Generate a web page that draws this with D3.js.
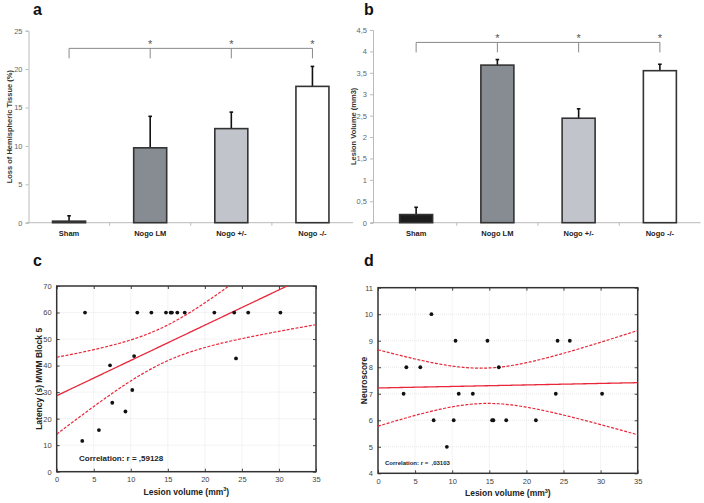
<!DOCTYPE html>
<html><head><meta charset="utf-8">
<script src="https://cdn.jsdelivr.net/npm/d3@7"></script>
<style>
html,body{margin:0;padding:0;background:#fff;}
svg{display:block;font-family:"Liberation Sans",Arial,sans-serif;}
</style></head>
<body>
<svg id="c" width="704" height="503"></svg>
<script>
// ---------- data ----------
const groups = ["Sham", "Nogo LM", "Nogo +/-", "Nogo -/-"];
const groupFill = ["#1c1c1c", "#878c92", "#c1c5cb", "#ffffff"];
const tissueLoss = [0.2, 9.75, 12.25, 17.75];
const tissueLossErr = [0.7, 4.1, 2.15, 2.6];
const tissueTicks = [0, 5, 10, 15, 20, 25];
const lesionVol = [0.19, 3.68, 2.44, 3.55];
const lesionVolErr = [0.17, 0.13, 0.22, 0.15];
const lesionTicks = [0, 0.5, 1, 1.5, 2, 2.5, 3, 3.5, 4, 4.5];
const lesionTickLabels = ["0", "0,5", "1", "1,5", "2", "2,5", "3", "3,5", "4", "4,5"];

const scatterX = [3.45, 3.82, 5.7, 7.2, 7.5, 9.28, 10.2, 10.45, 10.88, 12.78, 14.75, 15.38, 15.55, 16.28, 17.28, 21.28, 23.96, 24.2, 25.85, 30.2];
const latency  = [11.6, 60, 15.7, 40.1, 26.0, 22.7, 30.8, 43.6, 60, 60, 60, 60, 60, 60, 60, 60, 60, 42.7, 60, 60];
const neuroscore = [7, 8, 8, 10, 6, 5, 6, 9, 7, 7, 9, 6, 6, 8, 6, 6, 7, 9, 9, 7];
const volTicks = [0, 5, 10, 15, 20, 25, 30, 35];
const latTicks = [0, 10, 20, 30, 40, 50, 60, 70];
const neuroTicks = [4, 5, 6, 7, 8, 9, 10, 11];

const svg = d3.select("#c");
const FONT = '"Liberation Sans",Arial,sans-serif';

// ---------- bar panels ----------
function barPanel(o) {
  const g = svg.append("g");
  const x = d3.scaleBand().domain(groups).range(o.xr).paddingInner(0).paddingOuter(0);
  const y = d3.scaleLinear().domain(o.yd).range(o.yr);
  const bw = 33;
  // y axis
  const ya = d3.axisLeft(y).tickValues(o.ticks).tickSize(3).tickFormat((d, i) => o.labels ? o.labels[i] : d);
  const yg = g.append("g").attr("transform", `translate(${o.ax},0)`).call(ya);
  yg.select(".domain").attr("stroke", "#bbb");
  yg.selectAll(".tick line").attr("stroke", "#bbb");
  yg.selectAll(".tick text").attr("fill", "#666").attr("font-size", 7.5).attr("font-family", FONT).attr("dx", 0);
  // x axis
  const xg = g.append("g").attr("transform", `translate(0,${o.yr[0]})`);
  xg.append("line").attr("x1", o.ax - 2).attr("x2", o.xr[1]).attr("stroke", "#bbb");
  groups.forEach((c, i) => {
    if (i > 0) xg.append("line").attr("x1", x(c)).attr("x2", x(c)).attr("y1", 0).attr("y2", 3).attr("stroke", "#bbb");
    xg.append("text").attr("x", x(c) + x.bandwidth() / 2).attr("y", 13.5).attr("text-anchor", "middle")
      .attr("font-size", 7.5).attr("font-weight", "bold").attr("fill", "#222").attr("font-family", FONT).text(c);
  });
  // error bars
  o.vals.forEach((v, i) => {
    const cx = x(groups[i]) + x.bandwidth() / 2;
    g.append("line").attr("x1", cx).attr("x2", cx).attr("y1", y(v)).attr("y2", y(v + o.err[i])).attr("stroke", "#111").attr("stroke-width", 1.6);
    g.append("line").attr("x1", cx - 1.8).attr("x2", cx + 1.8).attr("y1", y(v + o.err[i])).attr("y2", y(v + o.err[i])).attr("stroke", "#111").attr("stroke-width", 1.6);
  });
  // bars
  g.selectAll("rect.bar").data(o.vals).join("rect")
    .attr("x", (d, i) => x(groups[i]) + x.bandwidth() / 2 - bw / 2)
    .attr("width", bw)
    .attr("y", d => y(d))
    .attr("height", d => y(0) - y(d))
    .attr("fill", (d, i) => groupFill[i])
    .attr("stroke", "#333").attr("stroke-width", 1.6);
  // significance bracket
  const by = y(o.bracket);
  const cxs = groups.map(c => x(c) + x.bandwidth() / 2);
  g.append("line").attr("x1", cxs[0]).attr("x2", cxs[3]).attr("y1", by).attr("y2", by).attr("stroke", "#888");
  g.append("line").attr("x1", cxs[0]).attr("x2", cxs[0]).attr("y1", by).attr("y2", by + 10).attr("stroke", "#888");
  [1, 2, 3].forEach(i => {
    g.append("line").attr("x1", cxs[i]).attr("x2", cxs[i]).attr("y1", by).attr("y2", by + 10).attr("stroke", "#888");
    g.append("text").attr("x", cxs[i]).attr("y", by - 0.5).attr("text-anchor", "middle")
      .attr("font-size", 11).attr("fill", "#555").attr("font-family", FONT).text("*");
  });
  // y label
  const cy = (o.yr[0] + o.yr[1]) / 2;
  g.append("text").attr("transform", `translate(${o.ylx},${cy}) rotate(-90)`).attr("text-anchor", "middle")
    .attr("font-size", 7.5).attr("font-weight", "bold").attr("fill", "#333").attr("font-family", FONT).text(o.ylabel);
  // panel letter
  g.append("text").attr("x", o.lx).attr("y", 15).attr("font-size", 16).attr("font-weight", "bold")
    .attr("font-family", FONT).attr("fill", "#111").text(o.letter);
}

barPanel({xr: [28.5, 353], ax: 28.5, yd: [0, 25], yr: [222.7, 30.7], ticks: tissueTicks, vals: tissueLoss, err: tissueLossErr,
  bracket: 22.7, ylabel: "Loss of Hemispheric Tissue (%)", ylx: 12, letter: "a", lx: 33});
barPanel({xr: [375.5, 700.5], ax: 373, yd: [0, 4.5], yr: [222.7, 30], ticks: lesionTicks, labels: lesionTickLabels, vals: lesionVol, err: lesionVolErr,
  bracket: 4.21, ylabel: "Lesion Volume (mm3)", ylx: 356, letter: "b", lx: 364});

// ---------- scatter panels ----------
function regression(xs, ys) {
  const n = xs.length;
  const mx = d3.mean(xs), my = d3.mean(ys);
  let sxx = 0, sxy = 0;
  xs.forEach((v, i) => { sxx += (v - mx) ** 2; sxy += (v - mx) * (ys[i] - my); });
  const b = sxy / sxx, a = my - b * mx;
  let sse = 0;
  xs.forEach((v, i) => { sse += (ys[i] - a - b * v) ** 2; });
  const s = Math.sqrt(sse / (n - 2));
  const t = 2.1009; // t(0.975, 18)
  return {a, b, half: x0 => t * s * Math.sqrt(1 / n + (x0 - mx) ** 2 / sxx)};
}

function scatterPanel(o) {
  const g = svg.append("g");
  const x = d3.scaleLinear().domain([0, 35]).range(o.xr);
  const y = d3.scaleLinear().domain(o.yd).range(o.yr);
  const id = "clip" + o.letter;
  svg.append("clipPath").attr("id", id).append("rect")
    .attr("x", o.xr[0]).attr("y", o.yr[1]).attr("width", o.xr[1] - o.xr[0]).attr("height", o.yr[0] - o.yr[1]);
  // grid
  g.append("g").selectAll("line").data(volTicks.slice(1, -1)).join("line")
    .attr("x1", d => x(d)).attr("x2", d => x(d)).attr("y1", o.yr[0]).attr("y2", o.yr[1])
    .attr("stroke", "#d8d8d8").attr("stroke-width", 0.6).attr("stroke-dasharray", "1,1");
  g.append("g").selectAll("line").data(o.yticks.slice(1, -1)).join("line")
    .attr("y1", d => y(d)).attr("y2", d => y(d)).attr("x1", o.xr[0]).attr("x2", o.xr[1])
    .attr("stroke", "#d8d8d8").attr("stroke-width", 0.6).attr("stroke-dasharray", "1,1");
  // axes (ticks inward)
  const fmt = d3.format("d");
  const xa = g.append("g").attr("transform", `translate(0,${o.yr[0]})`).call(d3.axisBottom(x).tickValues(volTicks).tickSize(-3).tickPadding(5).tickFormat(fmt));
  const xt = g.append("g").attr("transform", `translate(0,${o.yr[1]})`).call(d3.axisTop(x).tickValues(volTicks).tickSize(-3).tickFormat(""));
  const ya = g.append("g").attr("transform", `translate(${o.xr[0]},0)`).call(d3.axisLeft(y).tickValues(o.yticks).tickSize(-3).tickPadding(5).tickFormat(fmt));
  const yr = g.append("g").attr("transform", `translate(${o.xr[1]},0)`).call(d3.axisRight(y).tickValues(o.yticks).tickSize(-3).tickFormat(""));
  [xa, xt, ya, yr].forEach(a => { a.select(".domain").remove(); a.selectAll(".tick line").attr("stroke", "#444"); });
  [xa, ya].forEach(a => a.selectAll(".tick text").attr("fill", "#444").attr("font-size", 7.5).attr("font-family", FONT));
  // frame
  g.append("rect").attr("x", o.xr[0]).attr("y", o.yr[1]).attr("width", o.xr[1] - o.xr[0]).attr("height", o.yr[0] - o.yr[1])
    .attr("fill", "none").attr("stroke", "#333").attr("stroke-width", 1.5);
  // regression
  const r = regression(scatterX, o.ys);
  const xs = d3.range(0, 35.01, 0.25);
  const lg = g.append("g").attr("clip-path", `url(#${id})`);
  const line = d3.line().x(d => x(d[0])).y(d => y(d[1]));
  lg.append("path").attr("d", line(xs.map(v => [v, r.a + r.b * v]))).attr("fill", "none").attr("stroke", "#e8283a").attr("stroke-width", 1.3);
  [1, -1].forEach(sg => {
    lg.append("path").attr("d", line(xs.map(v => [v, r.a + r.b * v + sg * r.half(v)])))
      .attr("fill", "none").attr("stroke", "#e8283a").attr("stroke-width", 1.2).attr("stroke-dasharray", "3,1.5");
  });
  // points
  g.selectAll("circle").data(o.ys).join("circle")
    .attr("cx", (d, i) => x(scatterX[i])).attr("cy", d => y(d)).attr("r", 1.9).attr("fill", "#111");
  // texts
  g.append("text").attr("x", o.corr[0]).attr("y", o.corr[1]).attr("font-size", o.corrSize).attr("font-weight", "bold")
    .attr("fill", "#222").attr("font-family", FONT).attr("xml:space", "preserve").text(o.corrText);
  const xl = g.append("text").attr("x", (o.xr[0] + o.xr[1]) / 2).attr("y", o.yr[0] + 23).attr("text-anchor", "middle")
    .attr("font-size", 8.5).attr("font-weight", "bold").attr("fill", "#222").attr("font-family", FONT);
  xl.append("tspan").text("Lesion volume (mm");
  xl.append("tspan").attr("font-size", 5.5).attr("dy", -3.5).text("3");
  xl.append("tspan").attr("dy", 3.5).text(")");
  g.append("text").attr("transform", `translate(${o.ylx},${(o.yr[0] + o.yr[1]) / 2}) rotate(-90)`).attr("text-anchor", "middle")
    .attr("font-size", 8.5).attr("font-weight", "bold").attr("fill", "#222").attr("font-family", FONT).text(o.ylabel);
  g.append("text").attr("x", o.lx).attr("y", o.ly).attr("font-size", 16).attr("font-weight", "bold")
    .attr("font-family", FONT).attr("fill", "#111").text(o.letter);
}

scatterPanel({xr: [56.7, 316], yd: [0, 70], yr: [471.7, 286], yticks: latTicks, ys: latency,
  corr: [79, 461], corrSize: 8, corrText: "Correlation: r = ,59128", ylabel: "Latency (s) MWM Block 5", ylx: 42, letter: "c", lx: 33, ly: 266});
scatterPanel({xr: [378, 637.7], yd: [4, 11], yr: [473.3, 287.7], yticks: neuroTicks, ys: neuroscore,
  corr: [385, 465], corrSize: 6, corrText: "Correlation: r =  ,03103", ylabel: "Neuroscore", ylx: 367, letter: "d", lx: 364, ly: 266});
</script>
</body></html>
